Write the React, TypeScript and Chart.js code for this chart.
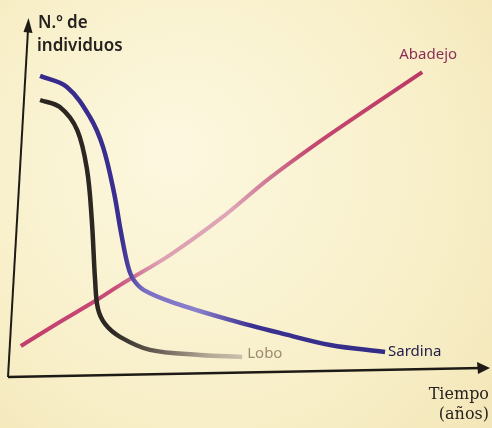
import React, { useEffect, useRef } from "react";
import { Chart, registerables } from "chart.js";

Chart.register(...registerables);

// Schematic values (time in arbitrary units 0-100, individuals 0-100)
const sardinaX = [4.7, 10.4, 15.3, 18.1, 20.4, 21.9, 23.4, 24.5, 26.8, 33.2, 45.1, 55.7, 66.4, 78.1];
const sardinaY = [84.2, 81.1, 72.6, 64.1, 51.4, 40.1, 30.5, 26.8, 23.7, 20.1, 15.3, 11.6, 8.2, 6.2];

const loboX = [4.7, 8.9, 12.6, 14.7, 15.7, 16.4, 17.0, 18.6, 21.7, 28.1, 38.7, 47.7];
const loboY = [77.4, 75.4, 68.9, 57.6, 43.5, 26.6, 18.5, 14.0, 10.5, 6.8, 5.4, 4.8];

const abadejoX = [0.6, 8.9, 16.4, 21.7, 32.3, 43.0, 53.6, 64.3, 74.9, 86.0];
const abadejoY = [7.9, 14.7, 20.6, 25.1, 33.6, 43.8, 55.4, 65.8, 75.4, 85.3];

const seriesNames = ["Sardina", "Lobo", "Abadejo"];
const yTitle = ["N.º de", "individuos"];
const xTitle = ["Tiempo", "(años)"];

const toPts = (xs: number[], ys: number[]) => xs.map((x, i) => ({ x, y: ys[i] }));

const hGradient = (stops: [number, string][]) => (c: any) => {
  const area = c.chart.chartArea;
  if (!area) return stops[0][1];
  const g = c.chart.ctx.createLinearGradient(area.left, 0, area.right, 0);
  stops.forEach(([o, col]) => g.addColorStop(o, col));
  return g;
};

const decor = {
  id: "decor",
  beforeDraw(chart: any) {
    const { ctx, width, height } = chart;
    ctx.save();
    const g = ctx.createRadialGradient(width * 0.35, height * 0.35, 20, width * 0.45, height * 0.45, width * 0.8);
    g.addColorStop(0, "#fcf7de");
    g.addColorStop(0.6, "#f8efc8");
    g.addColorStop(1, "#f2e4b4");
    ctx.fillStyle = g;
    ctx.fillRect(0, 0, width, height);
    ctx.restore();
  },
  afterDatasetsDraw(chart: any) {
    const { ctx, chartArea } = chart;
    const { left, right, top, bottom } = chartArea;
    ctx.save();
    ctx.strokeStyle = "#1e1a16";
    ctx.fillStyle = "#1e1a16";
    ctx.lineWidth = 2;
    const yb = { x: left - 10, y: bottom + 3 };
    const yt = { x: left + 10, y: top + 2 };
    ctx.beginPath();
    ctx.moveTo(yb.x, yb.y);
    ctx.lineTo(yt.x, yt.y + 8);
    ctx.stroke();
    ctx.beginPath();
    ctx.moveTo(yt.x + 0.5, yt.y - 4);
    ctx.lineTo(yt.x - 4.5, yt.y + 10);
    ctx.lineTo(yt.x + 4.5, yt.y + 11);
    ctx.closePath();
    ctx.fill();
    const xe = { x: right + 2, y: bottom - 6 };
    ctx.lineWidth = 2.5;
    ctx.beginPath();
    ctx.moveTo(yb.x, yb.y);
    ctx.lineTo(xe.x - 8, xe.y);
    ctx.stroke();
    ctx.beginPath();
    ctx.moveTo(xe.x, xe.y);
    ctx.lineTo(xe.x - 13, xe.y - 6);
    ctx.lineTo(xe.x - 12, xe.y + 6);
    ctx.closePath();
    ctx.fill();

    ctx.font = "600 17px 'Noto Sans'";
    ctx.fillStyle = "#25221f";
    ctx.textAlign = "left";
    ctx.textBaseline = "alphabetic";
    ctx.fillText(yTitle[0], left + 20, top + 8);
    ctx.fillText(yTitle[1], left + 19, top + 31);

    ctx.font = "16px 'DejaVu Serif'";
    ctx.textAlign = "right";
    ctx.fillText(xTitle[0], right + 1, bottom + 25);
    ctx.fillText(xTitle[1], right + 1, bottom + 45);

    const xs = chart.scales.x;
    const ys = chart.scales.y;
    const lastPx = (i: number) => {
      const d = chart.data.datasets[i].data as any[];
      const p = d[d.length - 1];
      return { x: xs.getPixelForValue(p.x), y: ys.getPixelForValue(p.y) };
    };
    ctx.font = "15px 'Noto Sans'";
    ctx.textBaseline = "middle";
    let p = lastPx(0);
    ctx.textAlign = "left";
    ctx.fillStyle = "#24204e";
    ctx.fillText(seriesNames[0], p.x + 3, p.y + 0);
    p = lastPx(1);
    ctx.fillStyle = "#9c8c72";
    ctx.fillText(seriesNames[1], p.x + 5, p.y - 3);
    p = lastPx(2);
    ctx.textAlign = "center";
    ctx.fillStyle = "#8a2f55";
    ctx.fillText(seriesNames[2], p.x + 6, p.y - 17);
    ctx.restore();
  },
};

export default function App() {
  const ref = useRef<HTMLCanvasElement>(null);
  useEffect(() => {
    if (!ref.current) return;
    const chart = new Chart(ref.current, {
      type: "scatter",
      data: {
        datasets: [
          {
            label: seriesNames[0],
            data: toPts(sardinaX, sardinaY),
            showLine: true,
            borderWidth: 4.5,
            pointRadius: 0,
            tension: 0.35,
            borderColor: hGradient([
              [0, "#35298a"],
              [0.22, "#3a2e90"],
              [0.27, "#7a6fc4"],
              [0.38, "#8a80cc"],
              [0.5, "#3a3090"],
              [1, "#2e2a80"],
            ]),
          } as any,
          {
            label: seriesNames[1],
            data: toPts(loboX, loboY),
            showLine: true,
            borderWidth: 4.5,
            pointRadius: 0,
            tension: 0.35,
            borderColor: hGradient([
              [0, "#2a2520"],
              [0.2, "#2c2722"],
              [0.3, "#6a6058"],
              [0.4, "#b0a693"],
              [0.5, "#d2c8b4"],
              [1, "#d2c8b4"],
            ]),
          } as any,
          {
            label: seriesNames[2],
            data: toPts(abadejoX, abadejoY),
            showLine: true,
            borderWidth: 4,
            pointRadius: 0,
            tension: 0.35,
            borderColor: hGradient([
              [0, "#c23c6c"],
              [0.2, "#c84a78"],
              [0.3, "#dca0b2"],
              [0.45, "#dda6b6"],
              [0.62, "#c44870"],
              [1, "#b8305f"],
            ]),
          } as any,
        ],
      },
      options: {
        animation: false,
        responsive: false,
        layout: { padding: { left: 18, right: 4, top: 20, bottom: 54 } },
        scales: {
          x: { type: "linear", min: 0, max: 100, display: false },
          y: { type: "linear", min: 0, max: 100, display: false },
        },
        plugins: { legend: { display: false }, tooltip: { enabled: false } },
      },
      plugins: [decor],
    });
    return () => chart.destroy();
  }, []);
  return (
    <div style={{ position: "fixed", left: 0, top: 0, width: 492, height: 428 }}>
      <canvas ref={ref} width={492} height={428} style={{ width: 492, height: 428, display: "block" }} />
    </div>
  );
}
